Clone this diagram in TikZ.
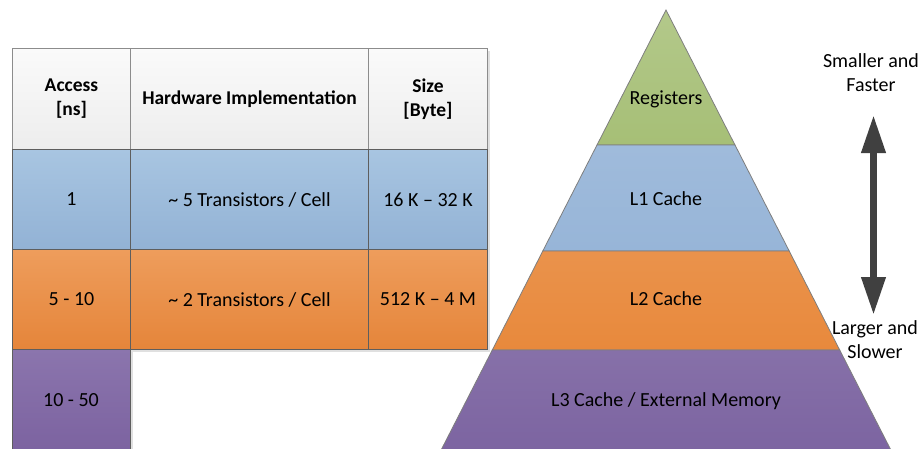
\documentclass[tikz,border=0pt]{standalone}
\usepackage{fontspec}
\setmainfont{Carlito}
\usetikzlibrary{arrows.meta}
\definecolor{hdtop}{HTML}{FAFAFA}
\definecolor{hdbot}{HTML}{EDEDED}
\definecolor{bltop}{HTML}{A8C5E1}
\definecolor{blbot}{HTML}{92B2D5}
\definecolor{ortop}{HTML}{EE9D5C}
\definecolor{orbot}{HTML}{E5853A}
\definecolor{putop}{HTML}{8B75AD}
\definecolor{pubot}{HTML}{795F9E}
\definecolor{pgreen}{HTML}{A6BF76}
\definecolor{pblue}{HTML}{97B5D8}
\definecolor{porange}{HTML}{E8893C}
\definecolor{ppurple}{HTML}{7C64A1}
\definecolor{bordr}{HTML}{5E5E5E}
\definecolor{arrowc}{HTML}{404040}
\tikzset{
  txt/.style={font=\fontsize{20}{24}\selectfont, align=center, text=black},
  cell/.style={draw=bordr, line width=1pt, anchor=north west, inner sep=0pt, txt},
  hcell/.style={cell, draw=gray!90, font=\fontsize{19.5}{24}\selectfont\bfseries},
  shad/.style={fill=black!12},
  layer/.style={draw=bordr!80, line width=0.8pt},
}
\begin{document}
\begin{tikzpicture}[x=1pt,y=-1pt]
\useasboundingbox (0,0) rectangle (922,448);
\clip (0,0) rectangle (922,448);
% table shadow
\fill[shad] (15,51) rectangle (490,352);
\fill[shad] (15,352) rectangle (133,452);
% header
\node[hcell, top color=hdtop, bottom color=hdbot, minimum width=118, minimum height=101] (h1) at (12,48) {Access\\{}[ns]};
\node[hcell, top color=hdtop, bottom color=hdbot, minimum width=238, minimum height=101] (h2) at (130,48) {Hardware Implementation};
\node[hcell, top color=hdtop, bottom color=hdbot, minimum width=119, minimum height=101] (h3) at (368,48) {Size\\{}[Byte]};
% row 1
\node[cell, top color=bltop, bottom color=blbot, minimum width=118, minimum height=100] (a1) at (12,149) {1};
\node[cell, top color=bltop, bottom color=blbot, minimum width=238, minimum height=100] (b1) at (130,149) {\~{} 5 Transistors / Cell};
\node[cell, top color=bltop, bottom color=blbot, minimum width=119, minimum height=100] (c1) at (368,149) {16 K -- 32 K};
% row 2
\node[cell, top color=ortop, bottom color=orbot, minimum width=118, minimum height=100] (a2) at (12,249) {5 - 10};
\node[cell, top color=ortop, bottom color=orbot, minimum width=238, minimum height=100] (b2) at (130,249) {\~{} 2 Transistors / Cell};
\node[cell, top color=ortop, bottom color=orbot, minimum width=119, minimum height=100] (c2) at (368,249) {512 K -- 4 M};
% row 3
\node[cell, top color=putop, bottom color=pubot, minimum width=118, minimum height=120] (a3) at (12,349) {};
\node[txt] (a3t) at (71,400) {10 - 50};
% pyramid
\path[layer, top color=pgreen!85!white, bottom color=pgreen] (666,10) -- (735,145) -- (597,145) -- cycle;
\path[layer, top color=pblue!92!white, bottom color=pblue] (597,145) -- (735,145) -- (789.2,251) -- (542.8,251) -- cycle;
\path[layer, top color=porange!92!white, bottom color=porange] (542.8,251) -- (789.2,251) -- (839.7,350) -- (492.3,350) -- cycle;
\path[layer, top color=ppurple!92!white, bottom color=ppurple] (492.3,350) -- (839.7,350) -- (891.9,452) -- (440.1,452) -- cycle;
\node[txt] (reg) at (666,99) {Registers};
\node[txt] (l1) at (666,199) {L1 Cache};
\node[txt] (l2) at (666,299) {L2 Cache};
\node[txt] (l3) at (666,401) {L3 Cache / External Memory};
% arrow and labels
\node[txt] (fast) at (871,73) {Smaller and\\Faster};
\node[txt] (slow) at (875,340) {Larger and\\Slower};
\coordinate (atop) at (873.5,115);
\coordinate (abot) at (873.5,315);
\draw[arrowc, line width=7pt, {Triangle[length=38pt,width=23pt]}-{Triangle[length=38pt,width=23pt]}] (atop) -- (abot);
\end{tikzpicture}
\end{document}
